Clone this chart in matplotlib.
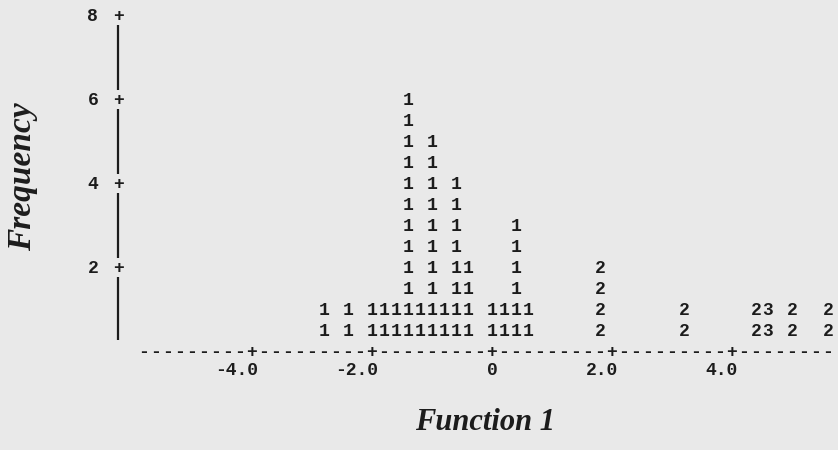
import numpy as np
import matplotlib
matplotlib.use("Agg")
import matplotlib.pyplot as plt

# Discriminant scores (Function 1), one text column per 0.2 step
group1_x = [-2.8, -2.4, -2.0, -1.8, -1.6, -1.4, -1.2, -1.0, -0.8, -0.6, -0.4, 0.0, 0.2, 0.4, 0.6]
group1_freq = [1, 1, 1, 1, 1, 6, 1, 5, 1, 4, 2, 1, 1, 3, 1]
group2_x = [1.8, 3.2, 4.4, 5.0, 5.6]
group2_freq = [2, 1, 1, 1, 1]
group3_x = [4.6]
group3_freq = [1]

x_ticks = [-4.0, -2.0, 0.0, 2.0, 4.0]
x_tick_labels = ["-4.0", "-2.0", "0", "2.0", "4.0"]
y_ticks = [2, 4, 6, 8]

ink = "#1c1c1c"
mono = dict(family="Liberation Mono", weight="bold", fontsize=13, color=ink)

fig = plt.figure(figsize=(8.38, 4.5), dpi=100, facecolor="#e9e9e9")
ax = fig.add_axes([0, 0, 1, 1])
ax.set_facecolor("#e9e9e9")
ax.set_xlim(-8.2, 5.767)
ax.set_ylim(-2.333, 8.381)
ax.axis("off")

# histogram characters: two text rows per unit of frequency
for xs, fs, sym in [(group1_x, group1_freq, "1"),
                    (group2_x, group2_freq, "2"),
                    (group3_x, group3_freq, "3")]:
    for x, f in zip(xs, fs):
        for j in range(1, 2 * f + 1):
            ax.text(x, j / 2, sym, ha="center", va="center", **mono)

# vertical axis: "+" marks with a rule between them
y_axis_x = -6.233
for t in y_ticks:
    ax.text(y_axis_x, t, "+", ha="center", va="center", **mono)
    ax.text(y_axis_x - 0.42, t, str(t), ha="center", va="center", **mono)
    lo = t - 1.75 if t > 2 else 0.28
    ax.plot([y_axis_x, y_axis_x], [t - 0.22, lo], color=ink, lw=1.6,
            solid_capstyle="butt")

# horizontal axis drawn as a dashed text line with "+" at the ticks
for k in range(-29, 29):
    x = k * 0.2
    ch = "+" if any(abs(x - t) < 1e-6 for t in x_ticks) else "-"
    ax.text(x, 0.0, ch, ha="center", va="center", **mono)
for t, lab in zip(x_ticks, x_tick_labels):
    ax.text(t + 0.1, -0.45, lab, ha="right", va="center", **mono)

ax.text(-7.83, 4.17, "Frequency", rotation=90, ha="center", va="center",
        family="Liberation Serif", style="italic", weight="bold",
        fontsize=24, color=ink)
ax.text(-0.12, -1.67, "Function 1", ha="center", va="center",
        family="Liberation Serif", style="italic", weight="bold",
        fontsize=22, color=ink)

fig.savefig("out.png", dpi=100, facecolor=fig.get_facecolor())
